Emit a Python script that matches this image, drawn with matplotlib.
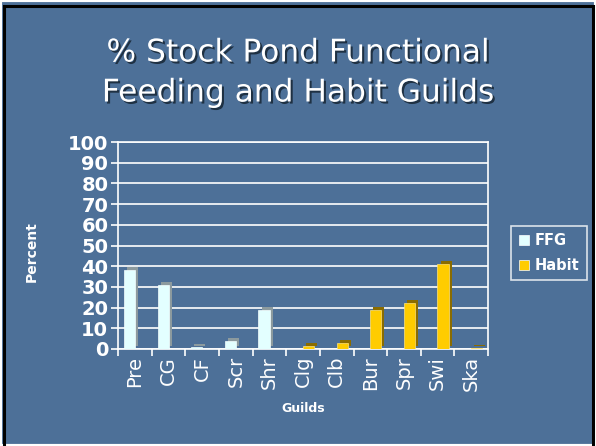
import numpy as np
import matplotlib
matplotlib.use("Agg")
import matplotlib.pyplot as plt
import matplotlib.patheffects as pe
from matplotlib.patches import Rectangle

guilds = ["Pre", "CG", "CF", "Scr", "Shr", "Clg", "Clb", "Bur", "Spr", "Swi", "Ska"]
ffg = [38, 31, 1, 4, 19, 0, 0, 0, 0, 0, 0]
habit = [0, 0, 0, 0, 0, 1.5, 3, 19, 22, 41, 0.5]

bg = "#4d7098"

fig = plt.figure(figsize=(5.96, 4.46), dpi=100)
fig.patch.set_facecolor(bg)

# slide frame
fig.patches.append(Rectangle((0, 0), 1, 1, transform=fig.transFigure,
                             facecolor="none", edgecolor="white", lw=3, zorder=0))
fig.patches.append(Rectangle((4 / 596, -0.1), 589 / 596, 1.1 - 6 / 446,
                             transform=fig.transFigure, facecolor="none",
                             edgecolor="black", lw=2.2, zorder=0))

ax = fig.add_axes([0.198, 0.2175, 0.621, 0.464])
ax.set_facecolor("none")

x = np.arange(len(guilds))
w = 0.33
b1 = ax.bar(x - 0.16, ffg, w, color="#e3ffff", edgecolor="#f4ffff", lw=0.5, zorder=3,
            label="FFG")
b2 = ax.bar(x + 0.16, habit, w, color="#ffcc00", edgecolor="#ffe27a", lw=0.5, zorder=3,
            label="Habit")
for r in b1:
    r.set_path_effects([pe.SimplePatchShadow(offset=(2.2, 2.2), shadow_rgbFace="#8c9a9e",
                                             alpha=1), pe.Normal()])
for r in b2:
    r.set_path_effects([pe.SimplePatchShadow(offset=(2.2, 2.2), shadow_rgbFace="#8a6c00",
                                             alpha=1), pe.Normal()])

ax.set_xlim(-0.5, len(guilds) - 0.5)
ax.set_ylim(0, 100)
ax.set_yticks(np.arange(0, 101, 10))
ax.yaxis.grid(True, color="white", lw=1.2, zorder=1)
ax.set_axisbelow(True)
for s in ax.spines.values():
    s.set_color("white")
    s.set_linewidth(1.2)

ax.set_xticks(x)
ax.set_xticklabels(guilds, rotation=90, fontsize=14, color="white")
ax.set_xticks(np.arange(-0.5, len(guilds), 1), minor=True)
ax.tick_params(axis="x", which="major", length=0, pad=5)
ax.tick_params(axis="x", which="minor", length=5, color="white", width=1.2)
ax.tick_params(axis="y", length=5, color="white", width=1.2, labelsize=14,
               labelcolor="white", pad=2)
for t in ax.get_yticklabels():
    t.set_fontweight("bold")

ax.set_xlabel("Guilds", fontsize=9, fontweight="bold", color="white", labelpad=8)
fig.text(32 / 596, 1 - 252 / 446, "Percent", rotation=90, fontsize=10,
         fontweight="bold", color="white", ha="center", va="center")

leg = fig.legend(loc="center", bbox_to_anchor=(549 / 596, 1 - 253 / 446), frameon=True,
                 prop={"weight": "bold", "size": 10.5},
                 handlelength=0.7, handleheight=0.7, handletextpad=0.4,
                 labelspacing=0.7, borderpad=0.5, fancybox=False)
leg.get_frame().set_facecolor("none")
leg.get_frame().set_edgecolor("white")
leg.get_frame().set_linewidth(1.2)
for t in leg.get_texts():
    t.set_color("white")
for h in leg.legend_handles:
    h.set_path_effects([])
    h.set_edgecolor("white")

shadow = [pe.withSimplePatchShadow(offset=(1.5, -1.5), shadow_rgbFace="#1a2a3a", alpha=0.9)]
fig.text(0.5, 1 - 53 / 446, "% Stock Pond Functional", fontsize=22.5, color="white",
         ha="center", va="center", path_effects=shadow)
fig.text(0.5, 1 - 93 / 446, "Feeding and Habit Guilds", fontsize=22.5, color="white",
         ha="center", va="center", path_effects=shadow)

fig.savefig("out.png", dpi=100, facecolor=fig.get_facecolor())
